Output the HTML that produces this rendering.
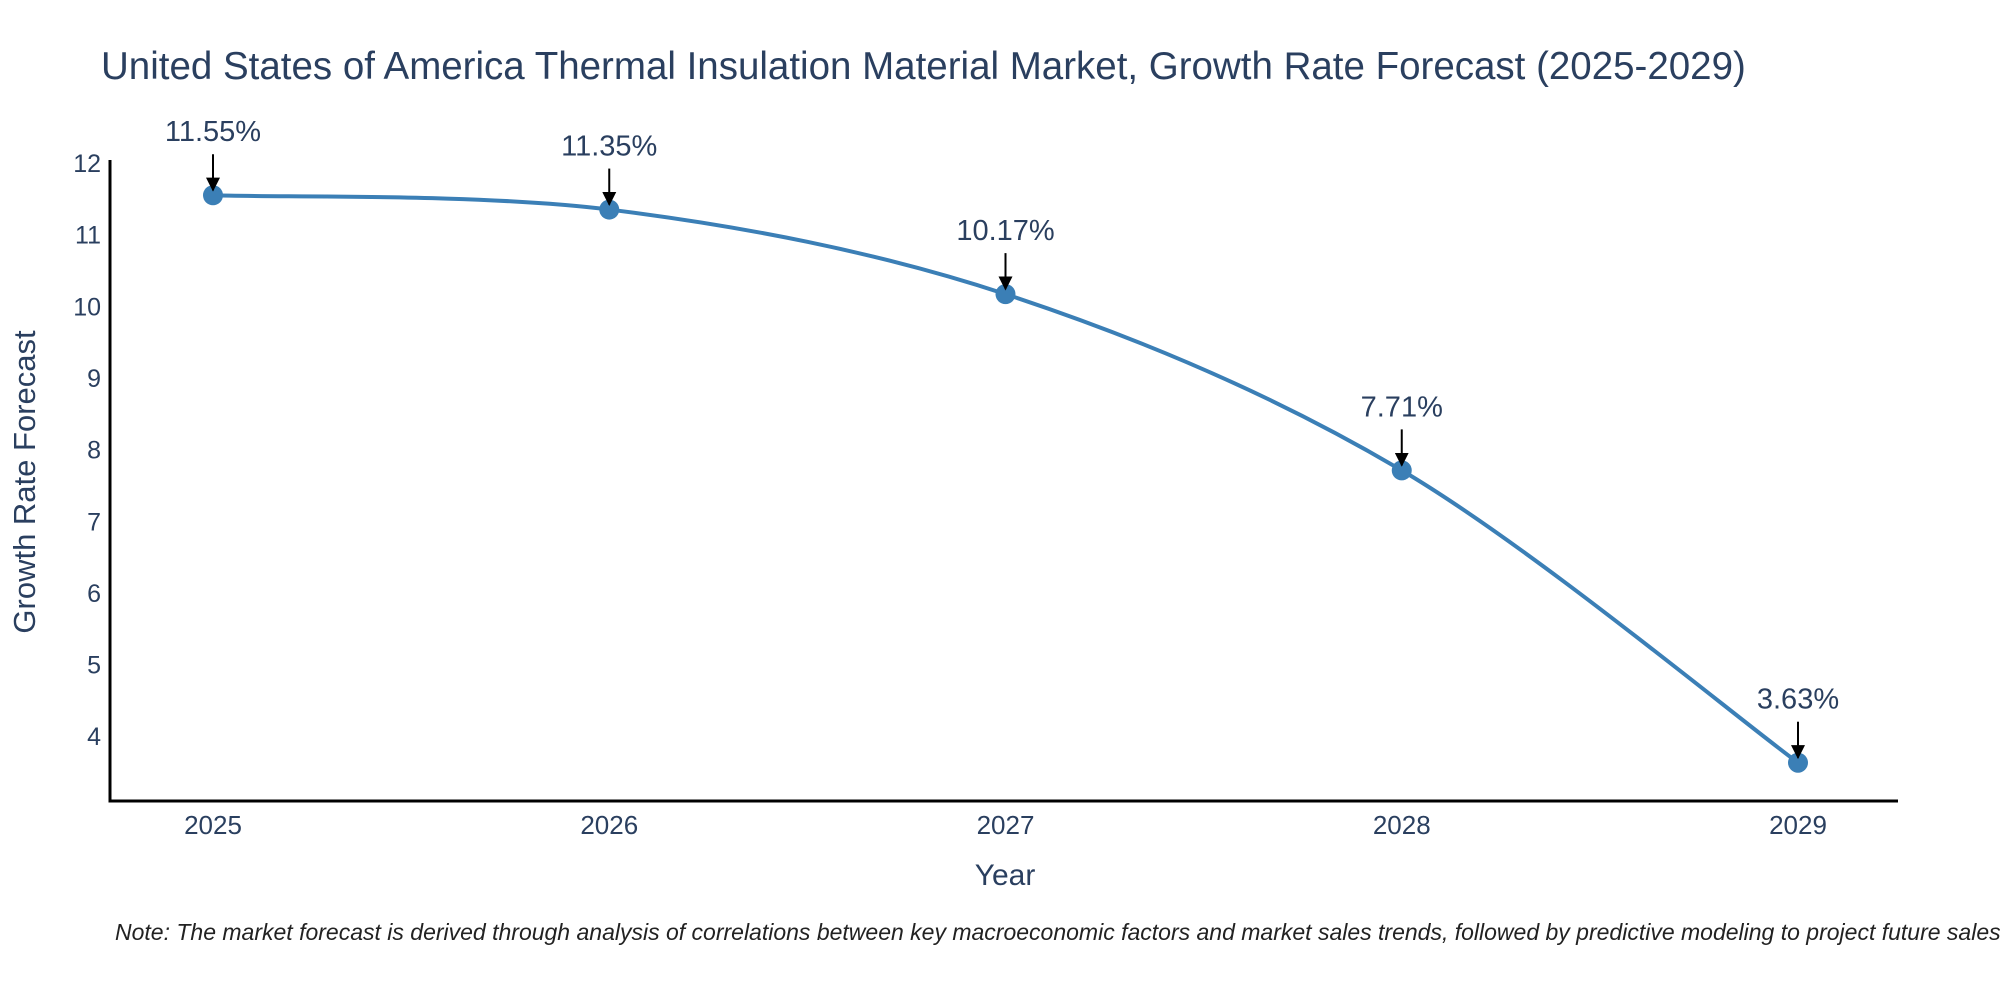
<!DOCTYPE html>
<html><head><meta charset="utf-8"><style>
body{margin:0;background:#fff;}
svg text{font-family:"Liberation Sans",sans-serif;}
</style></head><body>
<svg id="chart" width="2000" height="1000" xmlns="http://www.w3.org/2000/svg">
<text x="101" y="79" font-size="38.5" fill="#2a3f5f">United States of America Thermal Insulation Material Market, Growth Rate Forecast (2025-2029)</text>
<text transform="translate(35,482) rotate(-90)" text-anchor="middle" font-size="31" fill="#2a3f5f">Growth Rate Forecast</text>
<text x="1005" y="885" text-anchor="middle" font-size="30" fill="#2a3f5f">Year</text>
<text x="115" y="940" font-size="23" font-style="italic" fill="#222">Note: The market forecast is derived through analysis of correlations between key macroeconomic factors and market sales trends, followed by predictive modeling to project future sales</text>
<g id="plot"></g>
</svg>
<script>
const years=[2025,2026,2027,2028,2029];
const growth=[11.55,11.35,10.17,7.71,3.63];
const labels=["11.55%","11.35%","10.17%","7.71%","3.63%"];
const yTicks=[4,5,6,7,8,9,10,11,12];
const NS="http://www.w3.org/2000/svg";
const g=document.getElementById('plot');
const X=v=>213+(v-2025)*(1798-213)/4;
const Y=v=>163+(12-v)*71.65;
function el(t,a,p){const e=document.createElementNS(NS,t);for(const k in a)e.setAttribute(k,a[k]);(p||g).appendChild(e);return e;}
const ax=el('path',{d:'M110,160 V801 H1898',stroke:'#000','stroke-width':3,fill:'none'});


yTicks.forEach(t=>{const e=el('text',{x:101,y:Y(t)+9,'text-anchor':'end','font-size':25,fill:'#2a3f5f'});e.textContent=t;

});
years.forEach(t=>{const e=el('text',{x:X(t),y:834,'text-anchor':'middle','font-size':26,fill:'#2a3f5f'});e.textContent=t;

});
const pts=years.map((y,i)=>[X(y),Y(growth[i])]);
let d='M'+pts[0][0]+','+pts[0][1];const s=0.33;
for(let i=0;i<pts.length-1;i++){const p0=pts[Math.max(i-1,0)],p1=pts[i],p2=pts[i+1],p3=pts[Math.min(i+2,pts.length-1)];
d+=' C'+(p1[0]+(p2[0]-p0[0])*s/2)+','+(p1[1]+(p2[1]-p0[1])*s/2)+' '+(p2[0]-(p3[0]-p1[0])*s/2)+','+(p2[1]-(p3[1]-p1[1])*s/2)+' '+p2[0]+','+p2[1];}
const ln=el('path',{d:d,stroke:'#3b7fb6','stroke-width':4,fill:'none'});


el('defs',{}).innerHTML='<marker id="ah" viewBox="0 0 10 10" refX="9" refY="5" markerWidth="7" markerHeight="7" markerUnits="strokeWidth" orient="auto"><path d="M0,0 L10,5 L0,10z" fill="#000"/></marker>';
pts.forEach((p,i)=>{
const c=el('circle',{cx:p[0],cy:p[1],r:10,fill:'#3b7fb6'});


const a=el('line',{x1:p[0],y1:p[1]-41,x2:p[0],y2:p[1]-5,stroke:'#000','stroke-width':2,'marker-end':'url(#ah)'});


const t=el('text',{x:p[0],y:p[1]-54,'text-anchor':'middle','font-size':29,fill:'#2a3f5f'});t.textContent=labels[i];


});
</script>
</body></html>
